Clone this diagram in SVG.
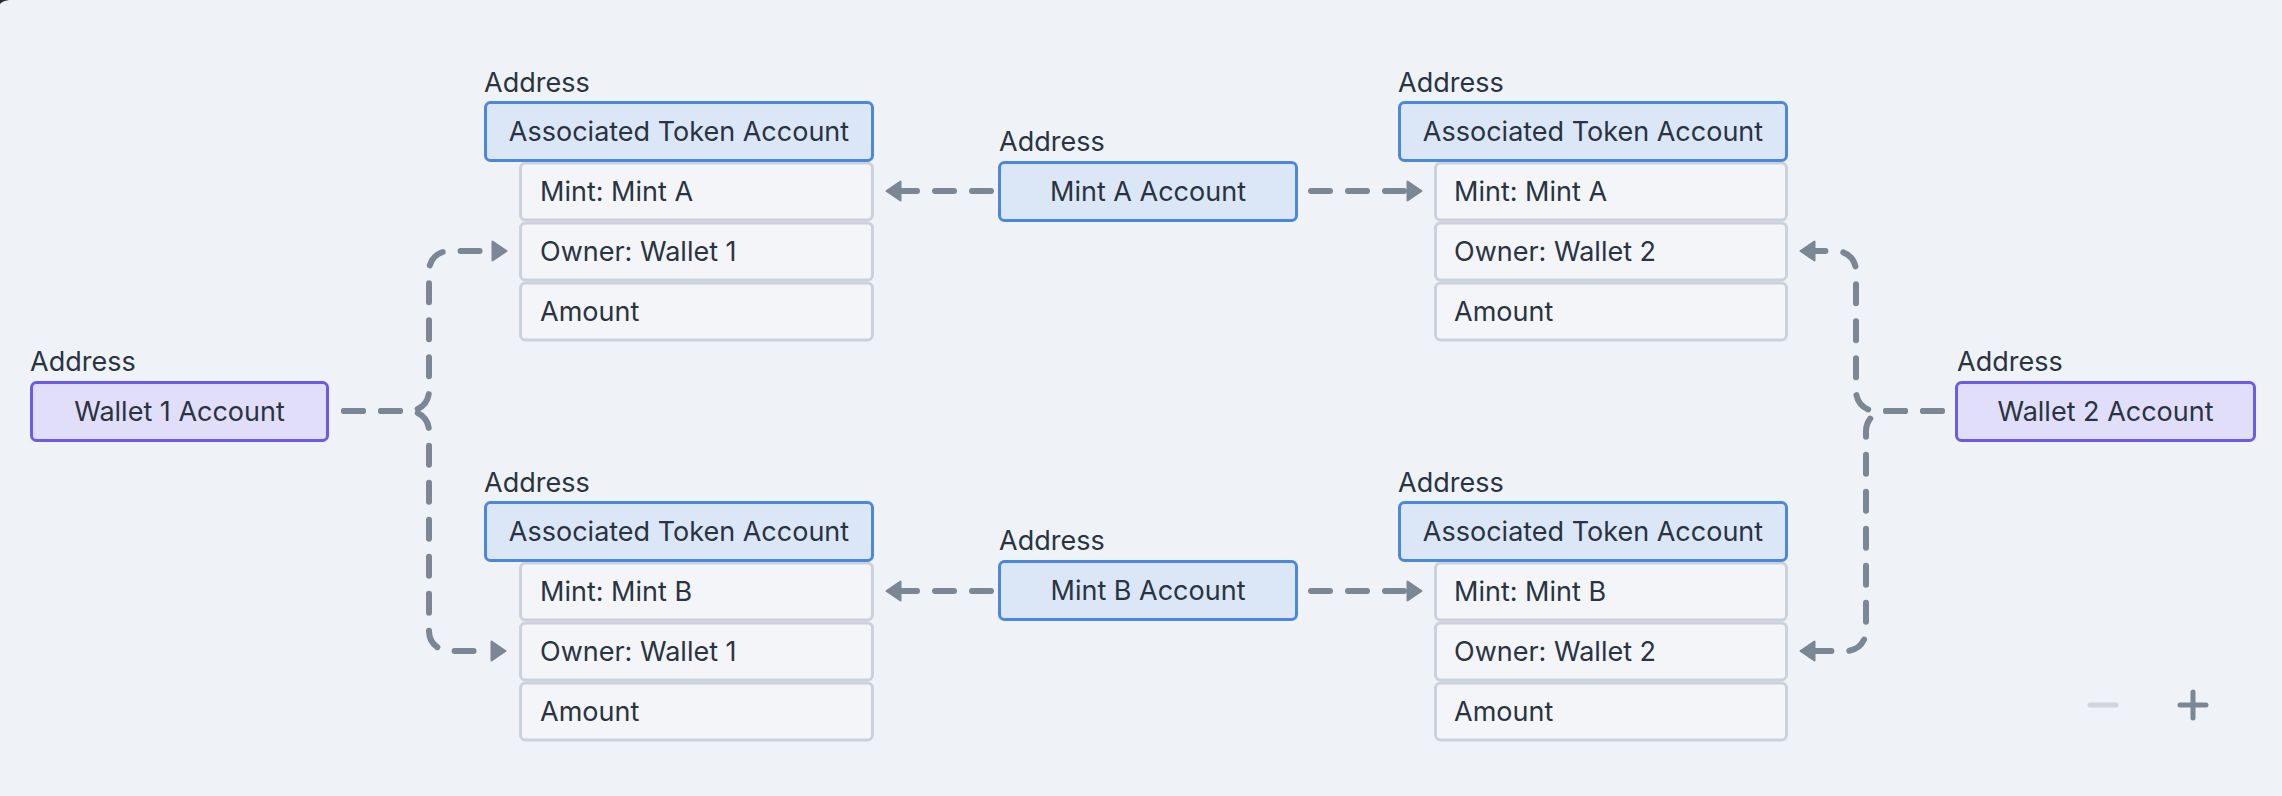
<svg xmlns="http://www.w3.org/2000/svg" width="2282" height="796" viewBox="0 0 2282 796">
<style>
text{font-family:Inter,"Noto Sans","Liberation Sans",sans-serif;font-size:27px;fill:#2a3342}
.c{text-anchor:middle}
.blue{fill:#dbe7f7;stroke:#4b88d9;stroke-width:3}
.purple{fill:#e1defa;stroke:#6b5be6;stroke-width:3}
.row{fill:#f3f5f8;stroke:#cbd2db;stroke-width:3}
.edge{fill:none;stroke:#7b8794;stroke-width:6;stroke-linecap:round;stroke-linejoin:round;stroke-dasharray:19 18}
.ctl{fill:none;stroke-width:5;stroke-linecap:round}
</style>
<defs>
<marker id="ah" viewBox="0 0 17 22" refX="1" refY="11" markerWidth="17" markerHeight="22" orient="auto" markerUnits="userSpaceOnUse">
<path d="M1.5,1.5 L15.5,11 L1.5,20.5 Z" fill="#7b8794" stroke="#7b8794" stroke-width="2" stroke-linejoin="round"/>
</marker>
</defs>
<rect width="2282" height="796" fill="#eff3f7"/>
<path d="M0,0 H9 Q2,1 0,4 Z" fill="#2a2a2a"/>

<g id="connectors">
<path class="edge" d="M991 191 H901" marker-end="url(#ah)"/>
<path class="edge" d="M1311 191 H1407" marker-end="url(#ah)"/>
<path class="edge" d="M991 591 H901" marker-end="url(#ah)"/>
<path class="edge" d="M1311 591 H1407" marker-end="url(#ah)"/>
<path class="edge" d="M344 411 H409 A20 20 0 0 0 429 391 V271 A20 20 0 0 1 449 251 H492" marker-end="url(#ah)"/>
<path class="edge" d="M344 411 H409 A20 20 0 0 1 429 431 V631 A20 20 0 0 0 449 651 H491" marker-end="url(#ah)"/>
<path class="edge" d="M1942 411 H1876 A20 20 0 0 1 1856 391 V271 A20 20 0 0 0 1836 251 H1815" marker-end="url(#ah)"/>
<path class="edge" d="M1942 411 H1886 A20 20 0 0 0 1866 431 V631 A20 20 0 0 1 1846 651 H1815" marker-end="url(#ah)"/>
</g>

<g id="ata-1a">
<text x="484" y="92">Address</text>
<rect class="row" x="520.5" y="163" width="352" height="57" rx="5"/>
<rect class="row" x="520.5" y="223" width="352" height="57" rx="5"/>
<rect class="row" x="520.5" y="283" width="352" height="57" rx="5"/>
<rect class="blue" x="485.5" y="102.5" width="387" height="58" rx="5"/>
<text class="c" x="679" y="141">Associated Token Account</text>
<text x="540" y="201">Mint: Mint A</text>
<text x="540" y="261">Owner: Wallet 1</text>
<text x="540" y="321">Amount</text>
</g>

<g id="ata-2a">
<text x="1398" y="92">Address</text>
<rect class="row" x="1435.5" y="163" width="351" height="57" rx="5"/>
<rect class="row" x="1435.5" y="223" width="351" height="57" rx="5"/>
<rect class="row" x="1435.5" y="283" width="351" height="57" rx="5"/>
<rect class="blue" x="1399.5" y="102.5" width="387" height="58" rx="5"/>
<text class="c" x="1593" y="141">Associated Token Account</text>
<text x="1454" y="201">Mint: Mint A</text>
<text x="1454" y="261">Owner: Wallet 2</text>
<text x="1454" y="321">Amount</text>
</g>

<g id="ata-1b">
<text x="484" y="492">Address</text>
<rect class="row" x="520.5" y="563" width="352" height="57" rx="5"/>
<rect class="row" x="520.5" y="623" width="352" height="57" rx="5"/>
<rect class="row" x="520.5" y="683" width="352" height="57" rx="5"/>
<rect class="blue" x="485.5" y="502.5" width="387" height="58" rx="5"/>
<text class="c" x="679" y="541">Associated Token Account</text>
<text x="540" y="601">Mint: Mint B</text>
<text x="540" y="661">Owner: Wallet 1</text>
<text x="540" y="721">Amount</text>
</g>

<g id="ata-2b">
<text x="1398" y="492">Address</text>
<rect class="row" x="1435.5" y="563" width="351" height="57" rx="5"/>
<rect class="row" x="1435.5" y="623" width="351" height="57" rx="5"/>
<rect class="row" x="1435.5" y="683" width="351" height="57" rx="5"/>
<rect class="blue" x="1399.5" y="502.5" width="387" height="58" rx="5"/>
<text class="c" x="1593" y="541">Associated Token Account</text>
<text x="1454" y="601">Mint: Mint B</text>
<text x="1454" y="661">Owner: Wallet 2</text>
<text x="1454" y="721">Amount</text>
</g>

<g id="mint-a">
<text x="999" y="151">Address</text>
<rect class="blue" x="999.5" y="162.5" width="297" height="58" rx="5"/>
<text class="c" x="1148" y="201">Mint A Account</text>
</g>

<g id="mint-b">
<text x="999" y="550">Address</text>
<rect class="blue" x="999.5" y="561.5" width="297" height="58" rx="5"/>
<text class="c" x="1148" y="600">Mint B Account</text>
</g>

<g id="wallet-1">
<text x="30" y="371">Address</text>
<rect class="purple" x="31.5" y="382.5" width="296" height="58" rx="5"/>
<text class="c" x="179.5" y="421">Wallet 1 Account</text>
</g>

<g id="wallet-2">
<text x="1957" y="371">Address</text>
<rect class="purple" x="1956.5" y="382.5" width="298" height="58" rx="5"/>
<text class="c" x="2105.5" y="421">Wallet 2 Account</text>
</g>

<g id="zoom-controls">
<path class="ctl" stroke="#d1d5db" d="M2090 705 H2116"/>
<path class="ctl" stroke="#7b8794" d="M2180 705 H2206 M2193 692 V718"/>
</g>
</svg>
